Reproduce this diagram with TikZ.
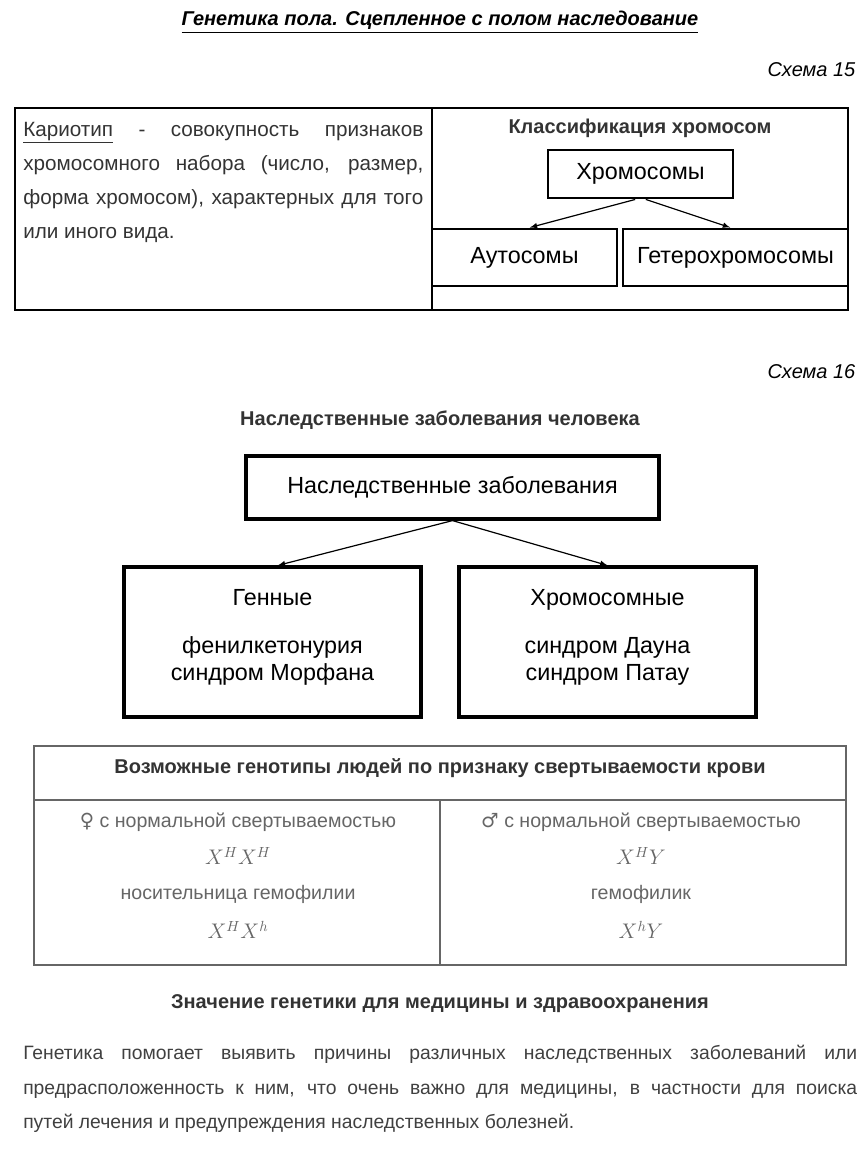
\documentclass[tikz,border=0pt]{standalone}
\usepackage{fontspec}
\setmainfont{Liberation Sans}
\newfontfamily\symfont{DejaVu Sans}
\usetikzlibrary{positioning}

\begin{document}
\begin{tikzpicture}[x=0.75pt, y=-0.75pt, >=latex,
    box/.style={draw, line width=2.2pt, inner sep=0pt, font=\fontsize{17.5}{20}\selectfont},
    bigbox/.style={draw, line width=2.4pt, inner sep=0pt},
    head/.style={font=\fontsize{15}{18}\selectfont\bfseries, text=black!80},
    cell/.style={font=\fontsize{14.7}{17}\selectfont, text=black!60},
    dis/.style={font=\fontsize{17.5}{20}\selectfont, align=center}]
\useasboundingbox (0,0) rectangle (867,1153);

% Scheme 15
\node (title) at (440,22) {\fontsize{15}{18}\selectfont\bfseries\itshape\underline{Генетика пола. Сцепленное с полом наследование}};
\node[anchor=east] (s15) at (860,70) {\fontsize{15}{18}\selectfont\itshape Схема 15};
\draw[line width=1.5pt] (15,108) rectangle (848,310);
\draw[line width=1.5pt] (432,108) -- (432,310);
\node[anchor=north west, inner sep=0pt, text width=300pt, align=justify,
      font=\fontsize{15.5}{25.5}\selectfont, text=black!80] (karyo) at (23,122)
  {\underline{Кариотип} - совокупность признаков\linebreak
   хромосомного набора (число, размер,\linebreak
   форма хромосом), характерных для того\linebreak
   или иного вида.};

\node[head] (clhead) at (640,128) {Классификация хромосом};
\node[box, minimum width=138.75pt, minimum height=36pt] (chrom) at (640.5,174) {Хромосомы};
\node[box, minimum width=138.75pt, minimum height=42.75pt] (auto) at (524.5,257.5) {Аутосомы};
\node[box, minimum width=168.75pt, minimum height=42.75pt] (hetero) at (735.5,257.5) {Гетерохромосомы};
\draw[->, line width=0.9pt] ([xshift=-4pt]chrom.south) -- ([xshift=4pt]auto.north);
\draw[->, line width=0.9pt] ([xshift=4pt]chrom.south) -- ([xshift=-4pt]hetero.north);

% Scheme 16
\node[anchor=east] (s16) at (860,372) {\fontsize{15}{18}\selectfont\itshape Схема 16};
\node[head] (dishead) at (440,420) {Наследственные заболевания человека};
\node[bigbox, minimum width=309.75pt, minimum height=47.25pt, dis] (hered) at (452.5,487.5) {Наследственные заболевания};
\node[bigbox, minimum width=222.75pt, minimum height=112.5pt] (genes) at (272.5,642) {};
\node[bigbox, minimum width=222.75pt, minimum height=112.5pt] (chromdis) at (607.5,642) {};
\node[dis, anchor=base] (genestxt) at (272.5,605) {Генные};
\node[dis, anchor=base] (genesex) at (272.5,680) {фенилкетонурия\\синдром Морфана};
\node[dis, anchor=base] (chromtxt) at (607.5,605) {Хромосомные};
\node[dis, anchor=base] (chromex) at (607.5,680) {синдром Дауна\\синдром Патау};
\draw[->, line width=0.9pt] (hered.south) -- ([xshift=4pt]genes.north);
\draw[->, line width=0.9pt] (hered.south) -- (chromdis.north);

% blood clotting genotypes
\draw[black!60, line width=0.8pt] (34,746) rectangle (846,965);
\draw[black!60, line width=0.8pt] (34,800) -- (846,800);
\draw[black!60, line width=0.8pt] (440,800) -- (440,965);
\node[head] (bloodhead) at (440,768) {Возможные генотипы людей по признаку свертываемости крови};
\node[cell] (femn) at (238,822) {{\symfont ♀} с нормальной свертываемостью};
\node[cell, scale=1.1] (femng) at (238,856) {$X^{H}X^{H}$};
\node[cell] (femc) at (238,894) {носительница гемофилии};
\node[cell, scale=1.1] (femcg) at (238,930) {$X^{H}X^{h}$};
\node[cell] (malen) at (641,822) {{\symfont ♂} с нормальной свертываемостью};
\node[cell, scale=1.1] (maleng) at (641,856) {$X^{H}Y$};
\node[cell] (maleh) at (641,894) {гемофилик};
\node[cell, scale=1.1] (malehg) at (641,930) {$X^{h}Y$};

% medicine
\node[head] (medhead) at (440,1004) {Значение генетики для медицины и здравоохранения};
\node[anchor=north west, inner sep=0pt, text width=625.5pt, align=justify,
      font=\fontsize{14.5}{26}\selectfont, text=black!75] (medtxt) at (23,1045)
  {Генетика помогает выявить причины различных наследственных заболеваний или\linebreak
   предрасположенность к ним, что очень важно для медицины, в частности для поиска\linebreak
   путей лечения и предупреждения наследственных болезней.};
\end{tikzpicture}
\end{document}
